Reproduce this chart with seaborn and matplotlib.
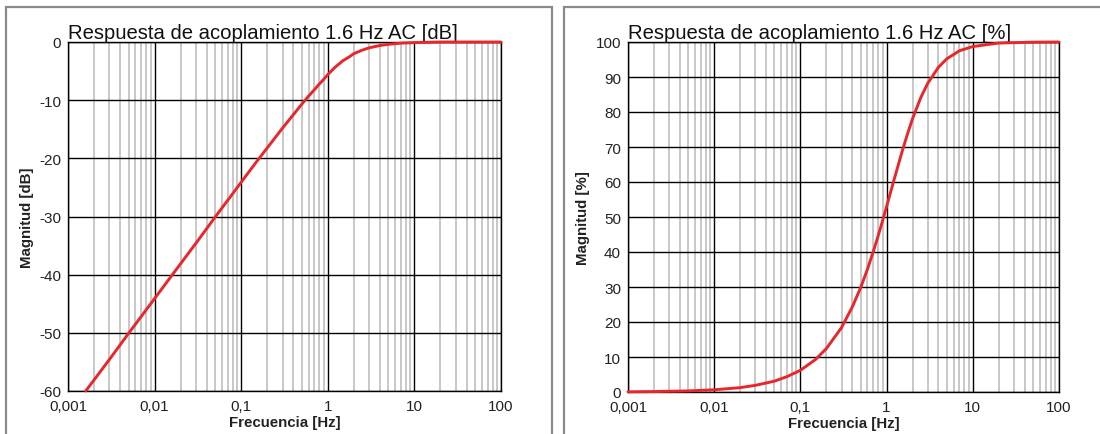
import matplotlib
matplotlib.use("Agg")
import matplotlib.pyplot as plt
from matplotlib.patches import Rectangle
from matplotlib.ticker import FixedLocator, NullFormatter
import seaborn as sns
import pandas as pd

# ---- data ----
freq_db = [0.0016, 0.002, 0.003, 0.005, 0.007, 0.01, 0.02, 0.03, 0.05, 0.07, 0.1, 0.15,
           0.2, 0.3, 0.4, 0.5, 0.6, 0.7, 0.8, 0.9, 1.0, 1.2, 1.5, 1.75, 2.0, 2.5, 3.0,
           4.0, 5.0, 7.0, 10.0, 20.0, 50.0, 100.0]
mag_db = [-60.0, -58.1, -54.6, -50.1, -47.2, -44.1, -38.1, -34.6, -30.1, -27.2, -24.1, -20.6,
          -18.2, -14.8, -12.5, -10.7, -9.3, -8.2, -7.2, -6.4, -5.6, -4.4, -3.2, -2.6, -2.0,
          -1.4, -1.0, -0.6, -0.4, -0.2, -0.1, 0.0, 0.0, 0.0]

freq_pct = [0.001, 0.002, 0.005, 0.01, 0.02, 0.03, 0.05, 0.07, 0.1, 0.15, 0.2, 0.3, 0.4,
            0.5, 0.6, 0.7, 0.8, 0.9, 1.0, 1.2, 1.5, 1.75, 2.0, 2.5, 3.0, 4.0, 5.0, 7.0,
            10.0, 20.0, 50.0, 100.0]
mag_pct = [0.06, 0.13, 0.31, 0.63, 1.25, 1.9, 3.1, 4.4, 6.2, 9.3, 12.4, 18.4, 24.3,
           29.8, 35.1, 40.1, 44.7, 49.0, 53.0, 60.0, 68.4, 73.8, 78.1, 84.2, 88.2, 92.8,
           95.2, 97.5, 98.7, 99.7, 99.95, 100.0]

x_ticks = [0.001, 0.01, 0.1, 1, 10, 100]
x_tick_labels = ["0,001", "0,01", "0,1", "1", "10", "100"]
db_ticks = [0, -10, -20, -30, -40, -50, -60]
pct_ticks = [0, 10, 20, 30, 40, 50, 60, 70, 80, 90, 100]

title_db = "Respuesta de acoplamiento 1.6 Hz AC [dB]"
title_pct = "Respuesta de acoplamiento 1.6 Hz AC [%]"
xlabel = "Frecuencia [Hz]"
ylabel_db = "Magnitud [dB]"
ylabel_pct = "Magnitud [%]"

# ---- style ----
sns.set_style("white")
plt.rcParams["font.family"] = ["Liberation Sans", "DejaVu Sans"]
plt.rcParams["axes.unicode_minus"] = False

RED = "#e8262b"
W, H = 1100, 435
fig = plt.figure(figsize=(W / 100, H / 100), dpi=100)

# panel frames (grey boxes)
frame_kw = dict(transform=fig.transFigure, fill=False, edgecolor="#8a8a8a",
                linewidth=1.6, clip_on=False)
fig.add_artist(Rectangle((6 / W, -0.05), (552 - 6) / W, (H - 8) / H + 0.05, **frame_kw))
fig.add_artist(Rectangle((564 / W, -0.05), 1.0, (H - 8) / H + 0.05, **frame_kw))


def make_axes(x0, x1, y0, y1):
    return fig.add_axes([x0 / W, 1 - y1 / H, (x1 - x0) / W, (y1 - y0) / H])


ax1 = make_axes(68, 501, 43, 392)
ax2 = make_axes(628, 1059, 43, 393)

df_db = pd.DataFrame({"f": freq_db, "m": mag_db})
df_pct = pd.DataFrame({"f": freq_pct, "m": mag_pct})

for ax, df, yticks, ylim, title, ylabel in [
    (ax1, df_db, db_ticks, (-60, 0), title_db, ylabel_db),
    (ax2, df_pct, pct_ticks, (0, 100), title_pct, ylabel_pct),
]:
    ax.set_xscale("log")
    sns.lineplot(data=df, x="f", y="m", ax=ax, color=RED, linewidth=2.1, zorder=5,
                 clip_on=False)
    ax.set_xlim(0.001, 100)
    ax.set_ylim(*ylim)
    ax.xaxis.set_major_locator(FixedLocator(x_ticks))
    ax.set_xticklabels(x_tick_labels)
    ax.xaxis.set_minor_locator(FixedLocator(
        [m * 10.0 ** e for e in range(-3, 2) for m in range(2, 10)]))
    ax.xaxis.set_minor_formatter(NullFormatter())
    ax.set_yticks(yticks)
    ax.grid(which="minor", axis="x", color="#c4c4c4", linewidth=1.3, zorder=0)
    ax.grid(which="major", axis="both", color="#000000", linewidth=1.0, zorder=1)
    ax.set_axisbelow(True)
    ax.tick_params(which="both", length=0, labelsize=11, colors="#222222")
    ax.tick_params(axis="x", pad=6)
    ax.tick_params(axis="y", pad=5)
    for s in ax.spines.values():
        s.set_color("#000000")
        s.set_linewidth(1.0)
        s.set_visible(True)
    ax.set_title(title, loc="left", fontsize=14.6, pad=3, color="#111111")
    ax.set_xlabel(xlabel, fontsize=10.8, fontweight="bold", labelpad=1.5, color="#222222")
    ax.set_ylabel(ylabel, fontsize=10.8, fontweight="bold", labelpad=4, color="#222222")

fig.savefig("out.png", dpi=100)
